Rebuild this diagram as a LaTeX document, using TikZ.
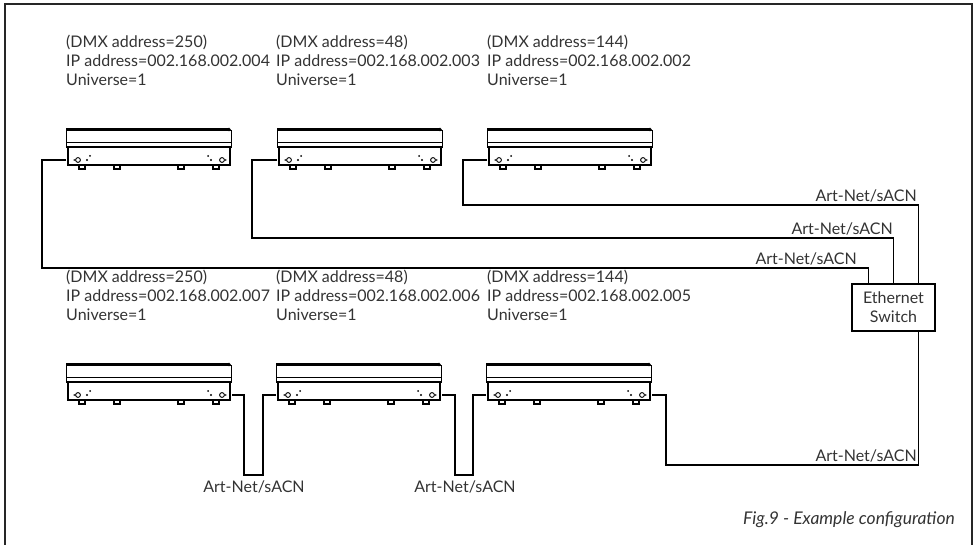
\documentclass[tikz,border=0pt]{standalone}
\usepackage{fontspec}
\setmainfont{Lato}
\begin{document}
\begin{tikzpicture}[x=1pt,y=-1pt,
  txt/.style={font=\fontsize{16}{19}\selectfont, text=black!80, inner sep=0pt},
  info/.style={txt, anchor=north west, align=left},
  wire/.style={line width=1.3pt, black},
  netlbl/.style={txt, anchor=south east},
  fixture/.pic={
    \draw[line width=0.9pt] (0,18) -- (0,1) -- (165,1) -- (165,18);
    \draw[line width=2.4pt] (0,0.6) -- (163,0.6);
    \fill (163,0.5) circle (1.8);
    \draw[line width=0.8pt] (0,13) -- (165,13);
    \draw[line width=1.3pt] (0,18) -- (166,18);
    \draw[line width=1.1pt] (2,18) rectangle (164,36);
    \foreach \fx in {16,51,115,150} {\draw[line width=1.1pt] (\fx-3,36) rectangle (\fx+3,40);}
    \draw[line width=0.9pt] (12,31) circle (2.4);
    \draw[line width=0.9pt] (156,31) circle (2.4);
    \fill (8.3,31) circle (0.9) (21,31) circle (1.1) (24,27) circle (1);
    \fill (142,27) circle (1) (145,31) circle (1.1) (159.7,31) circle (0.9);
    \coordinate (-l) at (0,31);
    \coordinate (-r) at (166,31);
  }]
\useasboundingbox (0,0) rectangle (977,545);
\draw[line width=1.3pt, black!85] (5,545) -- (5,4) -- (972,4) -- (972,545);

% top row
\node[info] (lt1) at (66,35) {(DMX address=250)\\IP address=002.168.002.004\\Universe=1};
\node[info] (lt2) at (276,35) {(DMX address=48)\\IP address=002.168.002.003\\Universe=1};
\node[info] (lt3) at (487,35) {(DMX address=144)\\IP address=002.168.002.002\\Universe=1};
\pic (t1) at (66,129) {fixture};
\pic (t2) at (277,129) {fixture};
\pic (t3) at (487,129) {fixture};

% bottom row
\node[info] (lb1) at (66,270) {(DMX address=250)\\IP address=002.168.002.007\\Universe=1};
\node[info] (lb2) at (276,270) {(DMX address=48)\\IP address=002.168.002.006\\Universe=1};
\node[info] (lb3) at (487,270) {(DMX address=144)\\IP address=002.168.002.005\\Universe=1};
\pic (b1) at (66,364) {fixture};
\pic (b2) at (276,364) {fixture};
\pic (b3) at (486,364) {fixture};

% switch
\node[txt, draw=black, line width=1.2pt, minimum width=83pt, minimum height=47pt, align=center, inner sep=2pt] (sw) at (893.5,307.5) {Ethernet\\Switch};

% corner coordinates
\coordinate (w1) at (42,268);
\coordinate (w2) at (252,238);
\coordinate (w3) at (463,205);
\coordinate (w4) at (666,465);
\coordinate (u1) at (244,475);
\coordinate (u2) at (455,475);

\draw[wire] (t1-l) -| (w1) -| ([xshift=-25pt]sw.north);
\draw[wire] (t2-l) -| (w2) -| (sw.north);
\draw[wire] (t3-l) -| (w3) -| ([xshift=25pt]sw.north);
\draw[wire] (b3-r) -| (w4) -| ([xshift=25pt]sw.south);
\draw[wire] (b1-r) -| (u1) -| ([xshift=-13pt]b2-l) -- (b2-l);
\draw[wire] (b2-r) -| (u2) -| ([xshift=-13pt]b3-l) -- (b3-l);

% labels
\node[netlbl] (n1) at (857,265) {Art-Net/sACN};
\node[netlbl] (n2) at (893,235) {Art-Net/sACN};
\node[netlbl] (n3) at (917,202) {Art-Net/sACN};
\node[netlbl] (n4) at (917,462) {Art-Net/sACN};
\node[txt, anchor=north] (n5) at (254,481) {Art-Net/sACN};
\node[txt, anchor=north] (n6) at (465,481) {Art-Net/sACN};

\node[txt, anchor=east, font=\fontsize{17.5}{19}\selectfont\itshape] (cap) at (955,520) {Fig.9 - Example configuration};
\end{tikzpicture}
\end{document}
